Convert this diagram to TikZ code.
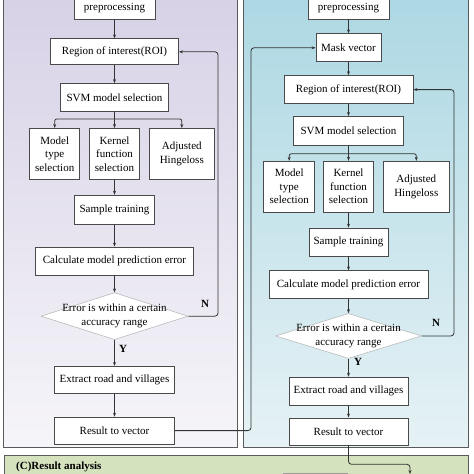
\documentclass[tikz,border=0pt]{standalone}
\usepackage{fontspec}
\setmainfont{Liberation Serif}
\usetikzlibrary{positioning,shapes.geometric,arrows.meta,calc}
\definecolor{lilactop}{HTML}{D5CFE5}
\definecolor{lilacbot}{HTML}{F6F5F9}
\definecolor{bluetop}{HTML}{A9D6E2}
\definecolor{bluebot}{HTML}{E6F2F5}
\definecolor{sage}{HTML}{D4E2BD}
\definecolor{boxgray}{HTML}{4A4A4A}
\definecolor{linegray}{HTML}{333333}
\definecolor{panelgray}{HTML}{5A5A5A}
\definecolor{shadegray}{HTML}{9A9A9A}
\begin{document}
\begin{tikzpicture}[x=1pt, y={(0pt,-1pt)},
    box/.style={draw=boxgray, fill=white, line width=0.8pt, align=center, inner sep=1pt,
      font=\fontsize{11}{13.5}\selectfont},
    diam/.style={diamond, draw=gray!60, fill=white, line width=0.5pt, inner sep=0pt},
    dtext/.style={align=center, inner sep=0pt, font=\fontsize{11}{14}\selectfont},
    arr/.style={draw=linegray, line width=0.8pt, -{Stealth[length=4pt,width=3pt]}},
    yn/.style={inner sep=0pt, font=\fontsize{11}{12}\selectfont\bfseries},
    panel/.style={draw=panelgray, line width=1pt}]
  \useasboundingbox (0,0) rectangle (474,474);

  % panels
  \fill[top color=lilactop, bottom color=lilacbot] (3,-30) rectangle (237,447);
  \draw[panel] (3,-30) rectangle (237,447);
  \fill[top color=bluetop, bottom color=bluebot] (243,-30) rectangle (468,447);
  \draw[panel] (243,-30) rectangle (468,447);
  \draw[panel, fill=sage] (4,455) rectangle (468,495);
  \node[yn, anchor=west] (resC) at (16,467) {(C)Result analysis};
  \draw[draw=shadegray, fill=shadegray] (283,473) rectangle (347,490);

  % left column
  \node[box, minimum width=81pt, minimum height=22pt] (pre1) at (114.5,8) {preprocessing};
  \node[box, below=19pt of pre1, minimum width=128pt, minimum height=26pt] (roi1) {Region of interest(ROI)};
  \node[box, below=18pt of roi1, minimum width=108pt, minimum height=28pt] (svm1) {SVM model selection};
  \node[box, below=16pt of svm1, minimum width=50pt, minimum height=51pt] (kern1) {Kernel\\function\\selection};
  \node[box, left=9pt of kern1, minimum width=50pt, minimum height=51pt] (type1) {Model\\type\\selection};
  \node[box, right=9pt of kern1, minimum width=65pt, minimum height=51pt] (adj1) {Adjusted\\Hingeloss};
  \node[box, below=15pt of kern1, minimum width=80pt, minimum height=29pt] (samp1) {Sample training};
  \node[box, below=22pt of samp1, minimum width=158pt, minimum height=28pt] (calc1) {Calculate model prediction error};
  \node[diam, below=17pt of calc1, minimum width=147pt, minimum height=47pt] (dia1) {};
  \node[dtext] (dia1t) at (dia1) {Error is within a certain\\accuracy range};
  \node[box, below=26pt of dia1, minimum width=120pt, minimum height=27pt] (extr1) {Extract road and villages};
  \node[box, below=23pt of extr1, minimum width=120pt, minimum height=27pt] (res1) {Result to vector};

  % right column
  \node[box, minimum width=81pt, minimum height=22pt] (pre2) at (348.5,8) {preprocessing};
  \node[box, below=14pt of pre2, minimum width=65pt, minimum height=28pt] (mask2) {Mask vector};
  \node[box, below=13pt of mask2, minimum width=129pt, minimum height=28pt] (roi2) {Region of interest(ROI)};
  \node[box, below=12pt of roi2, minimum width=110pt, minimum height=29pt] (svm2) {SVM model selection};
  \node[box, below=15pt of svm2, minimum width=50pt, minimum height=51pt] (kern2) {Kernel\\function\\selection};
  \node[box, left=8pt of kern2, minimum width=51pt, minimum height=51pt] (type2) {Model\\type\\selection};
  \node[box, right=9pt of kern2, minimum width=66pt, minimum height=51pt] (adj2) {Adjusted\\Hingeloss};
  \node[box, below=15pt of kern2, minimum width=79pt, minimum height=28pt] (samp2) {Sample training};
  \node[box, below=14pt of samp2, minimum width=159pt, minimum height=28pt] (calc2) {Calculate model prediction error};
  \node[diam, below=14pt of calc2, minimum width=146pt, minimum height=45pt] (dia2) {};
  \node[dtext] (dia2t) at (dia2) {Error is within a certain\\accuracy range};
  \node[box, below=18pt of dia2, minimum width=119pt, minimum height=28pt] (extr2) {Extract road and villages};
  \node[box, below=12pt of extr2, minimum width=119pt, minimum height=27pt] (res2) {Result to vector};

  % helper points
  \coordinate[below=7pt of svm1.south] (br1);
  \coordinate[below=8pt of svm2.south] (br2);
  \coordinate (nl1) at (218,0);
  \coordinate (nl2) at (454,0);
  \coordinate (xl) at (251,0);
  \coordinate (outC) at (410,474);

  % left connectors
  \draw[arr] (pre1) -- (roi1);
  \draw[arr] (roi1) -- (svm1);
  \draw[arr] (svm1) -- (kern1);
  \draw[arr, rounded corners=2pt] (br1) -| (type1.north);
  \draw[arr, rounded corners=2pt] (br1) -| (adj1.north);
  \draw[arr] (kern1) -- (samp1);
  \draw[arr] (samp1) -- (calc1);
  \draw[arr] (calc1) -- (dia1);
  \draw[arr] (dia1) -- (extr1);
  \draw[arr] (extr1) -- (res1);
  \draw[arr, rounded corners=3pt] (dia1.east) -| (nl1 |- roi1.east) -- (roi1.east);
  \draw[arr, rounded corners=3pt] (res1.east) -| (xl |- mask2.west) -- (mask2.west);
  \node[yn] (n1) at (205,304) {N};
  \node[yn] (y1) at (123,349) {Y};

  % right connectors
  \draw[arr] (pre2) -- (mask2);
  \draw[arr] (mask2) -- (roi2);
  \draw[arr] (roi2) -- (svm2);
  \draw[arr] (svm2) -- (kern2);
  \draw[arr, rounded corners=2pt] (br2) -| (type2.north);
  \draw[arr, rounded corners=2pt] (br2) -| (adj2.north);
  \draw[arr] (kern2) -- (samp2);
  \draw[arr] (samp2) -- (calc2);
  \draw[arr] (calc2) -- (dia2);
  \draw[arr] (dia2) -- (extr2);
  \draw[arr] (extr2) -- (res2);
  \draw[arr, rounded corners=3pt] (dia2.east) -| (nl2 |- roi2.east) -- (roi2.east);
  \draw[arr, rounded corners=3pt] (res2.south) -- ++(0,19) -| (outC);
  \node[yn] (n2) at (436,323) {N};
  \node[yn] (y2) at (358,362) {Y};
\end{tikzpicture}
\end{document}
